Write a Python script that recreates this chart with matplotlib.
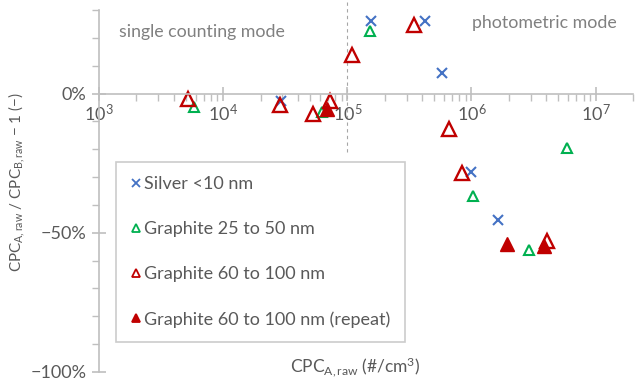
import matplotlib
matplotlib.use("Agg")
import matplotlib.pyplot as plt
from matplotlib.ticker import LogLocator, MultipleLocator, FuncFormatter, NullFormatter

plt.rcParams['font.family'] = ['Lato', 'DejaVu Sans']
plt.rcParams['mathtext.fontset'] = 'custom'
plt.rcParams['mathtext.rm'] = 'Lato'
plt.rcParams['mathtext.it'] = 'Lato:italic'

GRAY = '#595959'
AXIS = '#bfbfbf'

# data (x: #/cm3, y: fraction)
silver_x = [2.9e4, 1.56e5, 4.2e5, 5.8e5, 1.0e6, 1.63e6]
silver_y = [-0.027, 0.262, 0.262, 0.072, -0.283, -0.454]

g25_x = [5.84e3, 6.2e4, 1.51e5, 1.03e6, 2.93e6, 5.86e6]
g25_y = [-0.048, -0.068, 0.226, -0.368, -0.562, -0.197]

g60_x = [5.22e3, 2.86e4, 5.3e4, 7.2e4, 1.09e5, 3.42e5, 6.58e5, 8.4e5, 4.06e6]
g60_y = [-0.019, -0.040, -0.075, -0.028, 0.140, 0.247, -0.129, -0.287, -0.529]

g60r_x = [6.8e4, 1.93e6, 3.87e6]
g60r_y = [-0.057, -0.541, -0.547]

fig = plt.figure(figsize=(6.41, 3.80), dpi=100)
ax = fig.add_axes([99/641, 1-372/380, (633-99)/641, (372-10)/380])

ax.plot(silver_x, silver_y, 'x', color='#4472c4', ms=6.5, mew=1.5, ls='none',
        label='Silver <10 nm')
ax.plot(g25_x, g25_y, '^', mfc='none', mec='#00b050', ms=7, mew=1.5, ls='none',
        label='Graphite 25 to 50 nm')
ax.plot(g60_x, g60_y, '^', mfc='none', mec='#c00000', ms=10, mew=1.7, ls='none',
        label='Graphite 60 to 100 nm')
ax.plot(g60r_x, g60r_y, '^', color='#c00000', ms=10, ls='none',
        label='Graphite 60 to 100 nm (repeat)')

ax.set_xscale('log')
ax.set_xlim(1e3, 2e7)
ax.set_ylim(-1.0, 0.30)

# mode boundary
ax.plot([1e5, 1e5], [0.33, -0.22], ls=(0, (3, 3)), color='#a6a6a6', lw=0.8,
        clip_on=False, zorder=0)

for s in ['top', 'right']:
    ax.spines[s].set_visible(False)
ax.spines['bottom'].set_position(('data', 0))
for s in ['left', 'bottom']:
    ax.spines[s].set_color(AXIS)
    ax.spines[s].set_linewidth(1.2)

ax.xaxis.set_major_locator(LogLocator(base=10, numticks=10))
ax.xaxis.set_minor_locator(LogLocator(base=10, subs=range(2, 10), numticks=20))
ax.xaxis.set_minor_formatter(NullFormatter())
ax.yaxis.set_major_locator(MultipleLocator(0.5))
ax.yaxis.set_minor_locator(MultipleLocator(0.1))
ax.yaxis.set_major_formatter(FuncFormatter(
    lambda v, p: f"{v*100:.0f}%".replace('-', '\u2212')))

ax.tick_params(axis='x', which='major', direction='inout', length=10, width=1.2,
               color=AXIS, labelcolor=GRAY, labelsize=13, pad=2)
ax.tick_params(axis='x', which='minor', direction='out', length=5, width=1.0,
               color=AXIS)
ax.tick_params(axis='y', which='major', direction='inout', length=10, width=1.2,
               color=AXIS, labelcolor=GRAY, labelsize=13, pad=4)
ax.tick_params(axis='y', which='minor', direction='out', length=5, width=1.0,
               color=AXIS)

ax.text(0.038, 0.94, 'single counting mode', transform=ax.transAxes,
        fontsize=12.8, color='#808080', va='center')
ax.text(0.699, 0.965, 'photometric mode', transform=ax.transAxes,
        fontsize=12.8, color='#808080', va='center')

ax.set_xlabel(r'CPC$_\mathregular{A,raw}$ (#/cm$^\mathregular{3}$)',
              fontsize=12.5, color=GRAY)
ax.xaxis.set_label_coords(0.48, 0.045)
ylab = 'CPC$_\\mathregular{A,raw}$ / CPC$_\\mathregular{B,raw}$ \u2212 1 (\u2212)'
ax.set_ylabel(ylab, fontsize=11, color=GRAY)
ax.yaxis.set_label_coords(-0.135, 0.525)

leg = ax.legend(loc='upper left', bbox_to_anchor=(17/534, (372-162)/362),
                fontsize=13, labelcolor=GRAY, frameon=True, fancybox=False,
                edgecolor='#bfbfbf', handletextpad=0.15, handlelength=0.6,
                labelspacing=1.6, borderpad=0.8, borderaxespad=0)
leg.get_frame().set_linewidth(1.2)
for h in leg.legend_handles:
    h.set_markersize(6)
    h.set_markeredgewidth(1.3)

fig.savefig('out.png', dpi=100)
